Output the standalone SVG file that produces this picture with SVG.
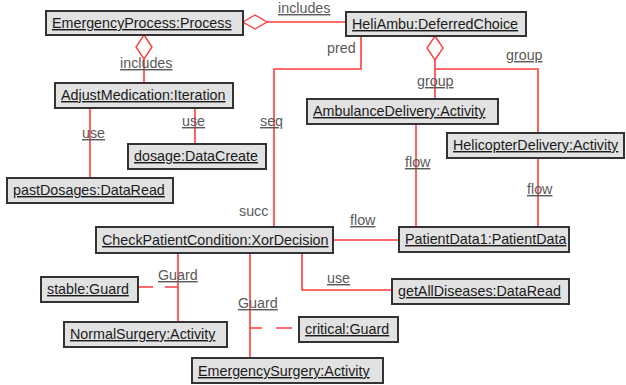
<svg xmlns="http://www.w3.org/2000/svg" width="626" height="385" viewBox="0 0 626 385">
<style>
.box{fill:#e2e2e2;stroke:#333;stroke-width:2}
.nt{font-family:"Liberation Sans",Arial,sans-serif;font-size:14.3px;fill:#1a1a1a;text-decoration:underline}
.lb{font-family:"Liberation Sans",Arial,sans-serif;font-size:14.3px;fill:#5a5a5a}
.u{text-decoration:underline}
.c{fill:none;stroke:#ff3b3b;stroke-width:1.6}
.d{fill:#fff;stroke:#ff3b3b;stroke-width:1.4}
</style>
<rect width="626" height="385" fill="#fff"/>
<g id="connectors">
<path class="c" d="M267 22H346"/>
<polygon class="d" points="243,22 255,15 267,22 255,29"/>
<path class="c" d="M144 59V83"/>
<polygon class="d" points="144,35 152,47 144,59 136,47"/>
<path class="c" d="M90 108V178"/>
<path class="c" d="M195 108V144"/>
<path class="c" d="M361 36V69H274V227"/>
<path class="c" d="M435 60V99M435 69H538V133"/>
<polygon class="d" points="435,36 443,48 435,60 427,48"/>
<path class="c" d="M416 124V227"/>
<path class="c" d="M538 158V227"/>
<path class="c" d="M333 240H399"/>
<path class="c" d="M302 253V290H392"/>
<path class="c" d="M178 253V322"/>
<path class="c" d="M138 287H178" style="stroke-dasharray:15 12"/>
<path class="c" d="M250 253V358"/>
<path class="c" d="M250 328H299" style="stroke-dasharray:12 14 16 20"/>
<text class="lb u" x="278" y="13">includes</text>
<text class="lb u" x="120" y="68">includes</text>
<text class="lb u" x="82" y="138">use</text>
<text class="lb u" x="182" y="126">use</text>
<text class="lb u" x="260" y="126">seq</text>
<text class="lb" x="327" y="53">pred</text>
<text class="lb" x="239" y="216">succ</text>
<text class="lb u" x="506" y="60">group</text>
<text class="lb u" x="417" y="86">group</text>
<text class="lb u" x="405" y="167">flow</text>
<text class="lb u" x="527" y="194">flow</text>
<text class="lb u" x="350" y="225">flow</text>
<text class="lb u" x="327" y="283">use</text>
<text class="lb u" x="158" y="280">Guard</text>
<text class="lb u" x="238" y="308">Guard</text>
</g>
<g id="EmergencyProcess"><rect class="box" x="46" y="11" width="197" height="24"/><text class="nt" x="52" y="28">EmergencyProcess:Process</text></g>
<g id="HeliAmbu"><rect class="box" x="346" y="12" width="180" height="24"/><text class="nt" x="352" y="29">HeliAmbu:DeferredChoice</text></g>
<g id="AdjustMedication"><rect class="box" x="55" y="83" width="178" height="25"/><text class="nt" x="61" y="100">AdjustMedication:Iteration</text></g>
<g id="AmbulanceDelivery"><rect class="box" x="307" y="99" width="191" height="25"/><text class="nt" x="313" y="116">AmbulanceDelivery:Activity</text></g>
<g id="dosage"><rect class="box" x="128" y="144" width="138" height="25"/><text class="nt" x="134" y="161">dosage:DataCreate</text></g>
<g id="pastDosages"><rect class="box" x="7" y="178" width="166" height="25"/><text class="nt" x="13" y="195">pastDosages:DataRead</text></g>
<g id="HelicopterDelivery"><rect class="box" x="447" y="133" width="177" height="25"/><text class="nt" x="453" y="150">HelicopterDelivery:Activity</text></g>
<g id="CheckPatientCondition"><rect class="box" x="96" y="227" width="237" height="26"/><text class="nt" x="102" y="245">CheckPatientCondition:XorDecision</text></g>
<g id="PatientData1"><rect class="box" x="399" y="227" width="170" height="25"/><text class="nt" x="405" y="244">PatientData1:PatientData</text></g>
<g id="stable"><rect class="box" x="41" y="277" width="97" height="25"/><text class="nt" x="47" y="294">stable:Guard</text></g>
<g id="NormalSurgery"><rect class="box" x="64" y="322" width="163" height="25"/><text class="nt" x="70" y="339">NormalSurgery:Activity</text></g>
<g id="critical"><rect class="box" x="299" y="317" width="99" height="25"/><text class="nt" x="305" y="334">critical:Guard</text></g>
<g id="EmergencySurgery"><rect class="box" x="192" y="358" width="191" height="25"/><text class="nt" x="198" y="376">EmergencySurgery:Activity</text></g>
<g id="getAllDiseases"><rect class="box" x="392" y="279" width="177" height="25"/><text class="nt" x="398" y="296">getAllDiseases:DataRead</text></g>
</svg>
